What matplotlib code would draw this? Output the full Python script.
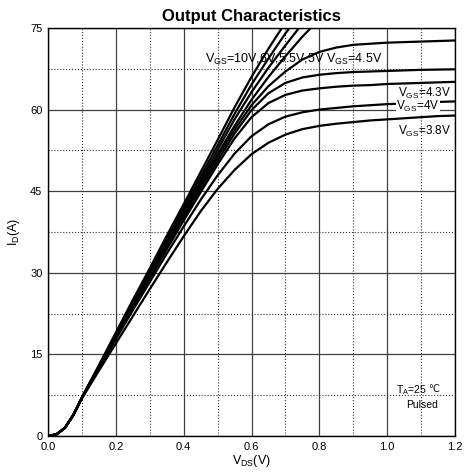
import numpy as np
import matplotlib
matplotlib.use('Agg')
import matplotlib.pyplot as plt
from matplotlib.ticker import MultipleLocator, FormatStrFormatter

plt.rcParams['font.family'] = ['Liberation Sans', 'DejaVu Sans']
plt.rcParams['mathtext.fontset'] = 'custom'
plt.rcParams['mathtext.rm'] = 'Liberation Sans'
plt.rcParams['mathtext.it'] = 'Liberation Sans'

# V_DS sample points (V)
vds = [0, .025, .05, .075, .1, .15, .2, .25, .3, .35, .4, .45, .5, .55, .6,
       .65, .7, .75, .8, .85, .9, .95, 1.0, 1.05, 1.1, 1.15, 1.2]

# I_D (A) per gate voltage
id_10v = [0, 0.3, 1.5, 3.9, 7.1, 13.0, 19.0, 25.0, 30.8, 36.8, 42.6, 48.5, 54.4, 60.4, 66.0, 71.2, 76.0]
id_6v = [0, 0.3, 1.5, 3.9, 7.1, 12.9, 18.8, 24.6, 30.4, 36.3, 42.0, 47.7, 53.4, 59.2, 64.6, 69.4, 74.0, 78.2]
id_5p5v = [0, 0.3, 1.5, 3.9, 7.0, 12.8, 18.6, 24.3, 30.0, 35.8, 41.5, 47.0, 52.6, 58.2, 63.2, 67.7, 71.8, 75.8]
id_5v = [0, 0.3, 1.5, 3.9, 7.0, 12.7, 18.4, 24.0, 29.7, 35.3, 40.9, 46.4, 51.8, 57.0, 61.8, 66.0, 69.8, 73.4, 76.6]
id_4p5v = [0, 0.3, 1.5, 3.9, 7.0, 12.7, 18.3, 23.9, 29.5, 35.1, 40.6, 46.0, 51.3, 56.3, 60.8, 64.3,
           67.0, 69.2, 70.6, 71.4, 71.9, 72.1, 72.3, 72.4, 72.5, 72.6, 72.7]
id_4p4v = [0, 0.3, 1.5, 3.9, 7.0, 12.6, 18.2, 23.7, 29.2, 34.7, 40.1, 45.4, 50.6, 55.6, 59.9, 63.0,
           64.9, 65.9, 66.4, 66.7, 66.9, 67.0, 67.1, 67.2, 67.3, 67.35, 67.4]
id_4p3v = [0, 0.3, 1.5, 3.9, 7.0, 12.5, 18.0, 23.5, 28.9, 34.3, 39.6, 44.8, 49.9, 54.7, 58.6, 61.2,
           62.7, 63.5, 63.9, 64.2, 64.4, 64.5, 64.7, 64.8, 64.9, 65.0, 65.1]
id_4v = [0, 0.3, 1.5, 3.9, 7.0, 12.4, 17.8, 23.1, 28.3, 33.5, 38.5, 43.4, 47.9, 51.9, 55.1, 57.3,
         58.7, 59.5, 60.0, 60.3, 60.6, 60.8, 61.0, 61.1, 61.3, 61.4, 61.5]
id_3p8v = [0, 0.3, 1.5, 3.8, 6.9, 12.0, 17.0, 22.0, 27.0, 31.9, 36.7, 41.3, 45.4, 48.9, 51.8, 53.9,
           55.4, 56.4, 57.0, 57.4, 57.7, 58.0, 58.2, 58.4, 58.6, 58.8, 58.9]

curves = [id_10v, id_6v, id_5p5v, id_5v, id_4p5v, id_4p4v, id_4p3v, id_4v, id_3p8v]

fig = plt.figure(figsize=(4.68, 4.74), dpi=100)
ax = fig.add_axes([0.1026, 0.0802, 0.8696, 0.8608])

for cur in curves:
    ax.plot(vds[:len(cur)], cur, color='black', linewidth=1.6, solid_capstyle='round')

ax.set_xlim(0, 1.2)
ax.set_ylim(0, 75)
ax.xaxis.set_major_locator(MultipleLocator(0.2))
ax.xaxis.set_minor_locator(MultipleLocator(0.1))
ax.yaxis.set_major_locator(MultipleLocator(15))
ax.yaxis.set_minor_locator(MultipleLocator(7.5))
ax.xaxis.set_major_formatter(FormatStrFormatter('%.1f'))
ax.grid(which='major', color='0.25', linestyle='-', linewidth=0.9)
ax.grid(which='minor', color='0.2', linestyle=':', linewidth=0.8)
ax.set_axisbelow(True)
ax.tick_params(which='both', length=0, labelsize=8, pad=4)
for s in ax.spines.values():
    s.set_linewidth(1.0)

ax.set_title('Output Characteristics', fontsize=12, fontweight='bold', pad=5)
ax.set_xlabel(r'V$_{\mathrm{DS}}$(V)', fontsize=9, labelpad=1)
ax.set_ylabel(r'I$_{\mathrm{D}}$(A)', fontsize=9, labelpad=6)

ax.text(0.463, 69.2, r'V$_{\mathrm{GS}}$=10V,6V,5.5V,5V V$_{\mathrm{GS}}$=4.5V', fontsize=9, va='center', ha='left')
ax.text(1.19, 63.0, r'V$_{\mathrm{GS}}$=4.3V', fontsize=8.5, va='center', ha='right')
ax.text(1.155, 60.5, r'V$_{\mathrm{GS}}$=4V', fontsize=8.5, va='center', ha='right',
        bbox=dict(facecolor='white', edgecolor='none', pad=0.5))
ax.text(1.19, 55.9, r'V$_{\mathrm{GS}}$=3.8V', fontsize=8.5, va='center', ha='right')
ax.text(1.118, 8.5, r'T$_{\mathrm{A}}$=25', fontsize=7.5, va='center', ha='right')
ax.text(1.121, 8.7, '℃', fontsize=7, va='center', ha='left', family=['DejaVu Sans'])
ax.text(1.103, 5.7, 'Pulsed', fontsize=7.5, va='center', ha='center')

fig.savefig('out.png', dpi=100)
